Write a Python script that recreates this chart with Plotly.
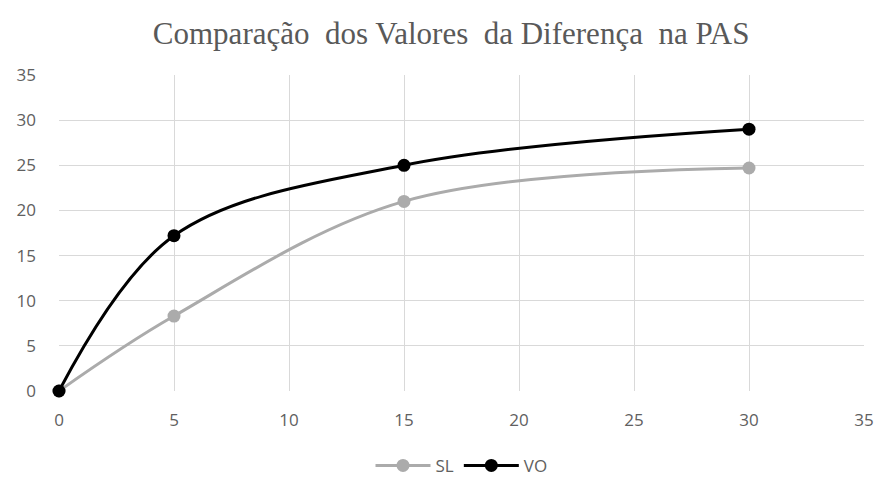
import plotly.graph_objects as go

# Time points and measured differences
tempo = [0, 5, 15, 30]
sl_vals = [0, 8.3, 21.0, 24.7]
vo_vals = [0, 17.2, 25.0, 29.0]

x_ticks = [0, 5, 10, 15, 20, 25, 30, 35]
y_ticks = [0, 5, 10, 15, 20, 25, 30, 35]

fig = go.Figure()
fig.add_trace(go.Scatter(
    x=tempo, y=sl_vals, name="SL", mode="lines+markers", cliponaxis=False,
    line=dict(color="#ababab", width=3, shape="spline", smoothing=1.0),
    marker=dict(color="#ababab", size=13),
))
fig.add_trace(go.Scatter(
    x=tempo, y=vo_vals, name="VO", mode="lines+markers", cliponaxis=False,
    line=dict(color="#000000", width=3, shape="spline", smoothing=1.0),
    marker=dict(color="#000000", size=13),
))

grid = "#d9d9d9"
tick_font = dict(family="Open Sans", size=17, color="#606060")

fig.update_layout(
    width=876, height=483,
    paper_bgcolor="white", plot_bgcolor="white",
    margin=dict(l=59, r=12, t=75, b=92, autoexpand=False),
    title=dict(text="Comparação  dos Valores  da Diferença  na PAS",
               x=0.515, xanchor="center", y=0.932, yanchor="middle",
               font=dict(family="Liberation Serif", size=31, color="#595959")),
    xaxis=dict(range=[0, 35], tickvals=x_ticks, showgrid=True, gridcolor=grid,
               gridwidth=1, zeroline=False, showline=False, ticks="",
               tickfont=tick_font, ticklabelstandoff=17),
    yaxis=dict(range=[0, 35], tickvals=y_ticks, showgrid=True, gridcolor=grid,
               gridwidth=1, zeroline=False, showline=False, ticks="",
               tickfont=tick_font, ticklabelstandoff=22),
    legend=dict(orientation="h", x=0.5, xanchor="center", y=-0.18, yanchor="top",
                font=tick_font, itemwidth=55, tracegroupgap=0),
    showlegend=True,
)

fig.write_html("out.html")
